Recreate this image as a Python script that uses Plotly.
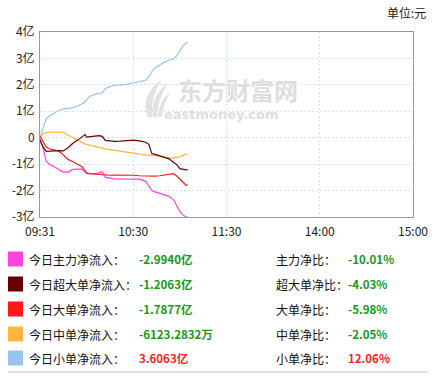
import plotly.graph_objects as go

# minute index from 09:31
idx = [0, 2, 4, 6, 9, 12, 15, 18, 21, 24, 27, 29, 30, 32, 35, 38, 40, 42, 45, 48, 52,
       56, 60, 64, 68, 70, 72, 74, 77, 80, 83, 86, 88, 90, 92, 94, 95]

small = [0.0, 0.4, 0.72, 0.82, 0.92, 1.03, 1.09, 1.12, 1.13, 1.2, 1.28, 1.34, 1.45, 1.56, 1.64,
         1.66, 1.7, 1.86, 1.94, 1.99, 2.0, 2.02, 2.07, 2.12, 2.18, 2.3, 2.5, 2.64, 2.75, 2.86,
         2.93, 2.99, 3.1, 3.28, 3.48, 3.58, 3.6063]
mid = [0.0, 0.15, 0.2, 0.21, 0.21, 0.21, 0.2, 0.1, 0.0, -0.08, -0.18, -0.24, -0.25, -0.28, -0.34,
       -0.38, -0.4, -0.42, -0.45, -0.48, -0.52, -0.55, -0.58, -0.62, -0.65, -0.67, -0.66, -0.67,
       -0.7, -0.73, -0.76, -0.76, -0.75, -0.73, -0.66, -0.62, -0.6123]
super_large = [-0.1, -0.35, -0.52, -0.52, -0.5, -0.49, -0.5, -0.38, -0.22, -0.1, 0.02, 0.12, 0.02,
               0.03, 0.06, 0.08, 0.05, -0.1, -0.12, -0.14, -0.13, -0.1, -0.09, -0.12, -0.17, -0.25,
               -0.6, -0.63, -0.68, -0.73, -0.8, -0.94, -1.02, -1.17, -1.2, -1.22, -1.2063]
large = [0.05, -0.15, -0.35, -0.42, -0.45, -0.5, -0.65, -0.82, -0.9, -1.0, -1.1, -1.25, -1.33,
         -1.36, -1.38, -1.38, -1.4, -1.4, -1.42, -1.41, -1.41, -1.42, -1.42, -1.44, -1.45, -1.44,
         -1.46, -1.45, -1.44, -1.41, -1.38, -1.36, -1.45, -1.57, -1.7, -1.8, -1.7877]
main = [-0.05, -0.4, -0.9, -1.0, -1.1, -1.2, -1.3, -1.3, -1.2, -1.19, -1.19, -1.3, -1.36, -1.36,
        -1.36, -1.33, -1.28, -1.5, -1.53, -1.56, -1.57, -1.57, -1.57, -1.57, -1.65, -1.85, -2.0,
        -2.05, -2.1, -2.17, -2.22, -2.35, -2.55, -2.8, -2.92, -3.0, -2.994]

x_tickvals = [0, 60, 120, 180, 240]
x_ticktext = ["09:31", "10:30", "11:30", "14:00", "15:00"]
y_tickvals = [4, 3, 2, 1, 0, -1, -2, -3]
y_ticktext = ["4亿", "3亿", "2亿", "1亿", "0", "-1亿", "-2亿", "-3亿"]

series_names = ["今日主力净流入", "今日超大单净流入", "今日大单净流入", "今日中单净流入", "今日小单净流入"]
series_colors = ["#ff44dd", "#660000", "#ff1a1a", "#ffb640", "#99c4ee"]
series_values = ["-2.9940亿", "-1.2063亿", "-1.7877亿", "-6123.2832万", "3.6063亿"]
ratio_names = ["主力净比", "超大单净比", "大单净比", "中单净比", "小单净比"]
ratio_values = ["-10.01%", "-4.03%", "-5.98%", "-2.05%", "12.06%"]

W, H = 439, 379
L, R, T, B = 40, 413, 32, 217
FONT = "Noto Sans CJK SC"


def px(x):
    return (x - L) / (R - L)


def py(y):
    return (B - y) / (B - T)


def path(cmds):
    out = []
    for c in cmds:
        if isinstance(c, str):
            out.append(c)
        else:
            out.append("%.4f,%.4f" % (px(c[0]), py(c[1])))
    return " ".join(out)


fig = go.Figure()
data_series = [main, super_large, large, mid, small]
order = [4, 3, 0, 2, 1]
for k in order:
    fig.add_trace(go.Scatter(x=idx, y=data_series[k], mode="lines",
                             line=dict(color=series_colors[k], width=1.2),
                             name=series_names[k], hoverinfo="skip"))

annotations = []
shapes = []

# watermark logo (three blades)
blades = [
    ["M", (148, 117), "Q", (139, 96), (162, 79), "Q", (150, 97), (152, 117), "Z"],
    ["M", (153, 117), "Q", (149, 98), (168, 83), "Q", (157, 100), (157, 117), "Z"],
    ["M", (158, 117), "Q", (158, 102), (171, 91), "Q", (163, 104), (162, 117), "Z"],
]
for b in blades:
    shapes.append(dict(type="path", xref="paper", yref="paper", path=path(b),
                       fillcolor="#e2e2e2", line=dict(width=0), layer="below"))

annotations.append(dict(x=px(238), y=py(89), xref="paper", yref="paper", text="<b>东方财富网</b>",
                        showarrow=False, font=dict(family=FONT, size=24, color="#dedede"),
                        xanchor="center", yanchor="middle"))
annotations.append(dict(x=px(221), y=py(114), xref="paper", yref="paper", text="<b>eastmoney.com</b>",
                        showarrow=False, font=dict(family="DejaVu Sans", size=13, color="#dedede"),
                        xanchor="center", yanchor="middle"))

# unit label
annotations.append(dict(x=px(428), y=py(13), xref="paper", yref="paper", text="单位:元",
                        showarrow=False, font=dict(family=FONT, size=12, color="#222"),
                        xanchor="right", yanchor="middle"))

rows_y = [259, 284, 309, 334, 358]
for i in range(5):
    yy = rows_y[i]
    shapes.append(dict(type="rect", xref="paper", yref="paper", x0=px(8), x1=px(23),
                       y0=py(yy - 7.5), y1=py(yy + 7.5), fillcolor=series_colors[i],
                       line=dict(width=0)))
    annotations.append(dict(x=px(27), y=py(yy), xref="paper", yref="paper",
                            text=series_names[i] + "：", showarrow=False,
                            font=dict(family=FONT, size=12, color="#111"),
                            xanchor="left", yanchor="middle"))
    vcol = "#ff1a1a" if not series_values[i].startswith("-") else "#129a12"
    annotations.append(dict(x=px(137), y=py(yy), xref="paper", yref="paper",
                            text="<b>" + series_values[i] + "</b>", showarrow=False,
                            font=dict(family=FONT, size=11.5, color=vcol),
                            xanchor="left", yanchor="middle"))
    annotations.append(dict(x=px(274), y=py(yy), xref="paper", yref="paper",
                            text=ratio_names[i] + "：", showarrow=False,
                            font=dict(family=FONT, size=12, color="#111"),
                            xanchor="left", yanchor="middle"))
    rcol = "#ff1a1a" if not ratio_values[i].startswith("-") else "#129a12"
    annotations.append(dict(x=px(346), y=py(yy), xref="paper", yref="paper",
                            text="<b>" + ratio_values[i] + "</b>", showarrow=False,
                            font=dict(family=FONT, size=11.5, color=rcol),
                            xanchor="left", yanchor="middle"))

shapes.append(dict(type="line", xref="paper", yref="paper", x0=px(8), x1=px(428),
                   y0=py(372), y1=py(372), line=dict(color="#c8dae8", width=1.5)))

fig.update_layout(
    width=W, height=H,
    margin=dict(l=L, r=W - R, t=T, b=H - B),
    paper_bgcolor="white", plot_bgcolor="white",
    showlegend=False,
    annotations=annotations, shapes=shapes,
    font=dict(family=FONT, size=12, color="#222"),
)
fig.update_xaxes(range=[0, 240], tickvals=x_tickvals, ticktext=x_ticktext,
                 showgrid=True, gridcolor="#d3e1ee", griddash="2px,2px", gridwidth=1,
                 showline=True, linecolor="#999", linewidth=1, mirror=True,
                 zeroline=False, ticks="", ticklabelstandoff=4, automargin=False,
                 tickfont=dict(size=12, color="#222"))
fig.update_yaxes(range=[-3, 4], tickvals=y_tickvals, ticktext=y_ticktext,
                 showgrid=True, gridcolor="#d3e1ee", griddash="2px,2px", gridwidth=1,
                 showline=True, linecolor="#999", linewidth=1, mirror=True,
                 zeroline=False, ticks="", ticklabelstandoff=2, automargin=False,
                 tickfont=dict(size=12, color="#222"))

fig.write_html("out.html", config={"displayModeBar": False},
               post_script="document.body.style.margin='0';document.body.style.padding='0';")
